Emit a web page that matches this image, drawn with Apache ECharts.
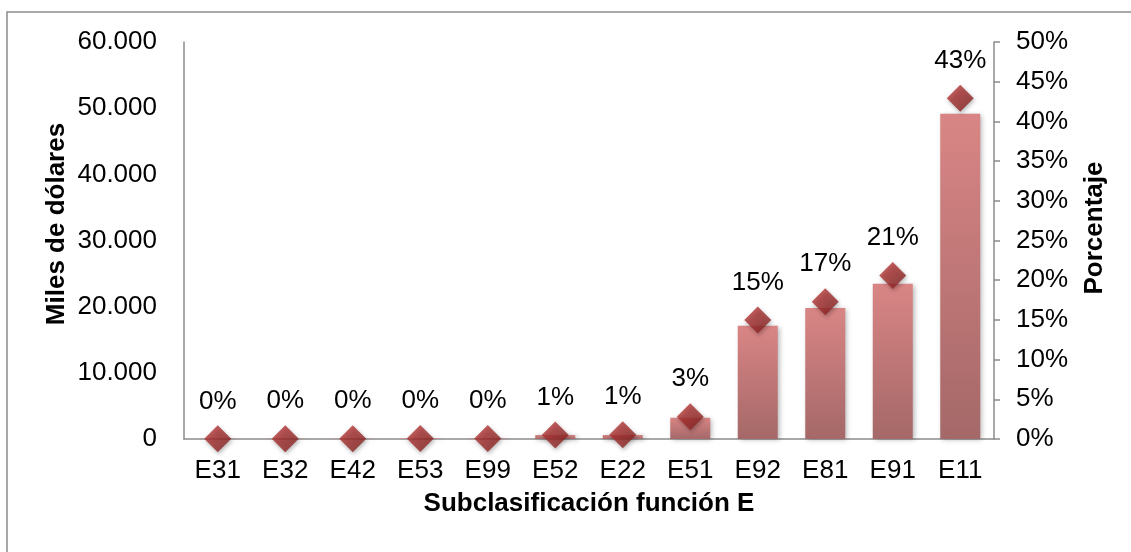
<!DOCTYPE html>
<html>
<head>
<meta charset="utf-8">
<script src="https://cdn.jsdelivr.net/npm/echarts@6/dist/echarts.min.js"></script>
<style>
html,body{margin:0;padding:0;background:#fff;}
#c{width:1131px;height:552px;}
</style>
</head>
<body>
<div id="c"></div>
<script>
const categories = ['E31','E32','E42','E53','E99','E52','E22','E51','E92','E81','E91','E11'];
const milesDolares = [20, 30, 40, 60, 80, 600, 620, 3200, 17100, 19800, 23450, 49150];
const porcentaje = [0.02, 0.03, 0.04, 0.05, 0.07, 0.5, 0.55, 2.8, 15.0, 17.3, 20.6, 42.9];
const leftTicks = [0, 10000, 20000, 30000, 40000, 50000, 60000];
const rightTicks = [0, 5, 10, 15, 20, 25, 30, 35, 40, 45, 50];

const FONT = 'Liberation Sans, Arial, Helvetica, sans-serif';
const FS = 26;
const fmtThousands = v => String(v).replace(/\B(?=(\d{3})+(?!\d))/g, '.');

const chart = echarts.init(document.getElementById('c'));
chart.setOption({
  animation: false,
  backgroundColor: '#fff',
  textStyle: { fontFamily: FONT },
  grid: { left: 184, right: 137, top: 42, bottom: 113 },
  graphic: [
    { type: 'rect', shape: { x: 7, y: 12, width: 1140, height: 560 },
      style: { fill: 'none', stroke: '#8c8c8c', lineWidth: 1.5 }, z: -1 },
    { type: 'text', x: 57, y: 224, rotation: Math.PI / 2,
      style: { text: 'Miles de dólares', font: 'bold 26px ' + FONT, fill: '#000', align: 'center', verticalAlign: 'middle' } },
    { type: 'text', x: 1095, y: 228, rotation: Math.PI / 2,
      style: { text: 'Porcentaje', font: 'bold 26px ' + FONT, fill: '#000', align: 'center', verticalAlign: 'middle' } },
    { type: 'text', x: 589, y: 504,
      style: { text: 'Subclasificación función E', font: 'bold 26px ' + FONT, fill: '#000', align: 'center', verticalAlign: 'middle' } }
  ],
  xAxis: {
    type: 'category',
    data: categories,
    axisLine: { lineStyle: { color: '#8c8c8c', width: 1.5 } },
    axisTick: { show: false },
    axisLabel: { color: '#000', fontSize: FS, margin: 19, fontFamily: FONT, interval: 0 }
  },
  yAxis: [
    {
      type: 'value', min: leftTicks[0], max: leftTicks[leftTicks.length - 1], interval: 10000,
      axisLine: { show: true, lineStyle: { color: '#8c8c8c', width: 1.5 } },
      axisTick: { show: false },
      splitLine: { show: false },
      axisLabel: { color: '#000', fontSize: FS, margin: 27, fontFamily: FONT, formatter: fmtThousands }
    },
    {
      type: 'value', min: rightTicks[0], max: rightTicks[rightTicks.length - 1], interval: 5,
      position: 'right',
      axisLine: { show: true, lineStyle: { color: '#8c8c8c', width: 1.5 } },
      axisTick: { show: true, length: 6, lineStyle: { color: '#8c8c8c', width: 1.5 } },
      splitLine: { show: false },
      axisLabel: { color: '#000', fontSize: FS, margin: 22, fontFamily: FONT, formatter: v => v + '%' }
    }
  ],
  series: [
    {
      type: 'bar',
      yAxisIndex: 0,
      data: milesDolares,
      barWidth: 40,
      itemStyle: {
        color: new echarts.graphic.LinearGradient(0, 0, 0, 1, [
          { offset: 0, color: '#d98585' },
          { offset: 1, color: '#a56868' }
        ]),
        shadowColor: 'rgba(0,0,0,0.3)', shadowBlur: 5, shadowOffsetX: 2, shadowOffsetY: 1
      }
    },
    {
      type: 'scatter',
      yAxisIndex: 1,
      data: porcentaje,
      symbol: 'diamond',
      symbolSize: 27,
      z: 5,
      itemStyle: {
        color: new echarts.graphic.LinearGradient(0, 0, 1, 1, [
          { offset: 0, color: '#c03a3a' },
          { offset: 1, color: '#7e1e1e' }
        ]),
        shadowColor: 'rgba(0,0,0,0.35)', shadowBlur: 4, shadowOffsetX: 1, shadowOffsetY: 2
      },
      label: {
        show: true, position: 'top', distance: 11,
        color: '#000', opacity: 1, textBorderWidth: 0, fontSize: FS, fontFamily: FONT,
        formatter: p => Math.round(p.value) + '%'
      },
      emphasis: { disabled: true }
    }
  ]
});
</script>
</body>
</html>
